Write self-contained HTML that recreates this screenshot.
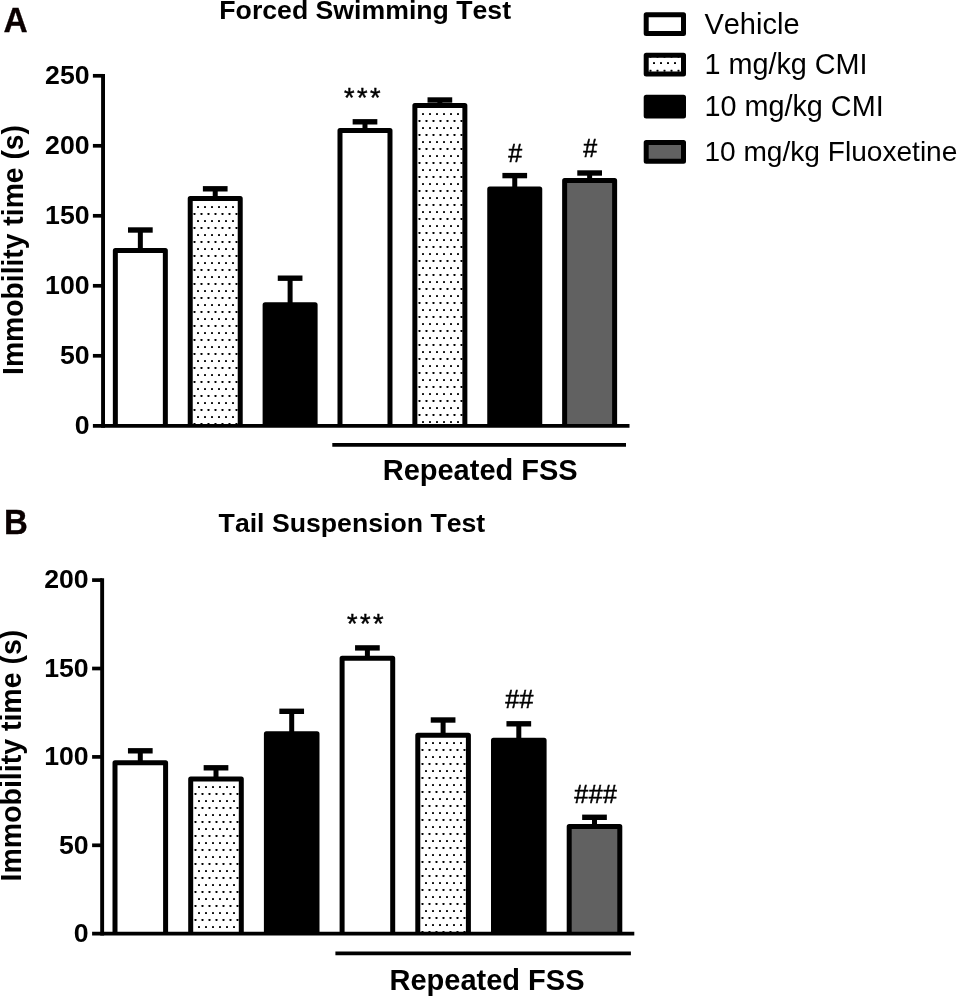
<!DOCTYPE html>
<html lang="en"><head><meta charset="utf-8"><title>Forced Swimming Test / Tail Suspension Test</title>
<style>html,body{margin:0;padding:0;background:#fff}body{width:957px;height:996px;overflow:hidden}svg{display:block}text{font-family:"Liberation Sans", Arial, Helvetica, sans-serif;fill:#000;font-kerning:none}.b{font-weight:bold}</style></head><body>
<svg width="957" height="996" viewBox="0 0 957 996">
<rect width="957" height="996" fill="#fff"/>
<defs><pattern id="pa1" patternUnits="userSpaceOnUse" x="196" y="204" width="7" height="14"><rect width="7" height="14" fill="#fff"/><rect x="1" y="2" width="2" height="2" rx="0.4"/><rect x="4.5" y="9" width="2" height="2" rx="0.4"/></pattern><pattern id="pa4" patternUnits="userSpaceOnUse" x="421" y="111" width="7" height="14"><rect width="7" height="14" fill="#fff"/><rect x="1" y="2" width="2" height="2" rx="0.4"/><rect x="4.5" y="9" width="2" height="2" rx="0.4"/></pattern><pattern id="pb1" patternUnits="userSpaceOnUse" x="197" y="784" width="7" height="14"><rect width="7" height="14" fill="#fff"/><rect x="1" y="2" width="2" height="2" rx="0.4"/><rect x="4.5" y="9" width="2" height="2" rx="0.4"/></pattern><pattern id="pb4" patternUnits="userSpaceOnUse" x="424" y="740" width="7" height="14"><rect width="7" height="14" fill="#fff"/><rect x="1" y="2" width="2" height="2" rx="0.4"/><rect x="4.5" y="9" width="2" height="2" rx="0.4"/></pattern><pattern id="pl" patternUnits="userSpaceOnUse" x="652" y="60" width="7" height="14"><rect width="7" height="14" fill="#fff"/><rect x="1" y="2.1" width="2" height="2" rx="0.4"/><rect x="4.5" y="9.7" width="2" height="2" rx="0.4"/></pattern></defs>
<path d="M140.35 250.6V230.2" stroke="#000" stroke-width="5" fill="none"/><path d="M128 230H152.7" stroke="#000" stroke-width="5.4" fill="none"/>
<path d="M115.35 425.8V250.6H165.35V425.8" fill="#fff" stroke="#000" stroke-width="5" stroke-linejoin="round"/>
<path d="M215.23 198.4V189" stroke="#000" stroke-width="5" fill="none"/><path d="M202.88 188.8H227.58" stroke="#000" stroke-width="5.4" fill="none"/>
<path d="M190.23 425.8V198.4H240.23V425.8" fill="url(#pa1)" stroke="#000" stroke-width="5" stroke-linejoin="round"/>
<path d="M290.11 304.7V278.4" stroke="#000" stroke-width="5" fill="none"/><path d="M277.76 278.2H302.46" stroke="#000" stroke-width="5.4" fill="none"/>
<path d="M265.11 425.8V304.7H315.11V425.8" fill="#000" stroke="#000" stroke-width="5" stroke-linejoin="round"/>
<path d="M364.99 130.6V122" stroke="#000" stroke-width="5" fill="none"/><path d="M352.64 121.8H377.34" stroke="#000" stroke-width="5.4" fill="none"/>
<path d="M339.99 425.8V130.6H389.99V425.8" fill="#fff" stroke="#000" stroke-width="5" stroke-linejoin="round"/>
<path d="M439.87 105.6V100.2" stroke="#000" stroke-width="5" fill="none"/><path d="M427.52 100H452.22" stroke="#000" stroke-width="5.4" fill="none"/>
<path d="M414.87 425.8V105.6H464.87V425.8" fill="url(#pa4)" stroke="#000" stroke-width="5" stroke-linejoin="round"/>
<path d="M514.75 189.1V175.8" stroke="#000" stroke-width="5" fill="none"/><path d="M502.4 175.6H527.1" stroke="#000" stroke-width="5.4" fill="none"/>
<path d="M489.75 425.8V189.1H539.75V425.8" fill="#000" stroke="#000" stroke-width="5" stroke-linejoin="round"/>
<path d="M589.63 180.4V173.2" stroke="#000" stroke-width="5" fill="none"/><path d="M577.28 173H601.98" stroke="#000" stroke-width="5.4" fill="none"/>
<path d="M564.63 425.8V180.4H614.63V425.8" fill="#616161" stroke="#000" stroke-width="5" stroke-linejoin="round"/>
<path d="M92.9 425.8H629.5" stroke="#000" stroke-width="3.8" fill="none"/>
<path d="M103.05 74.05V427.7" stroke="#000" stroke-width="3.9" fill="none"/>
<path d="M92.9 75.8H103.1" stroke="#000" stroke-width="3.7" fill="none"/>
<path d="M92.9 145.8H103.1" stroke="#000" stroke-width="3.7" fill="none"/>
<path d="M92.9 215.8H103.1" stroke="#000" stroke-width="3.7" fill="none"/>
<path d="M92.9 285.8H103.1" stroke="#000" stroke-width="3.7" fill="none"/>
<path d="M92.9 355.8H103.1" stroke="#000" stroke-width="3.7" fill="none"/>
<text class="b" x="89.6" y="84" font-size="26.67" text-anchor="end">250</text>
<text class="b" x="89.6" y="154" font-size="26.67" text-anchor="end">200</text>
<text class="b" x="89.6" y="224" font-size="26.67" text-anchor="end">150</text>
<text class="b" x="89.6" y="294" font-size="26.67" text-anchor="end">100</text>
<text class="b" x="89.6" y="364" font-size="26.67" text-anchor="end">50</text>
<text class="b" x="89.6" y="434" font-size="26.67" text-anchor="end">0</text>
<path d="M332.3 444.9H626" stroke="#000" stroke-width="3.8" fill="none"/>
<text class="b" x="480.2" y="479.7" font-size="29" text-anchor="middle">Repeated FSS</text>
<text class="b" transform="translate(365.2 19.2) scale(1 0.965)" font-size="26.67" text-anchor="middle">Forced Swimming Test</text>
<text class="b" transform="translate(3.5 32.1) scale(1 1.045)" font-size="33.5" style="fill:#0a0000" stroke="#0a0000" stroke-width="0.3">A</text>
<text class="b" transform="translate(22.6 250) rotate(-90) scale(1 1.055)" font-size="28.3" text-anchor="middle">Immobility time (s)</text>
<text x="363.4" y="107" font-size="27.2" letter-spacing="2.4" stroke="#000" stroke-width="0.4" text-anchor="middle">***</text>
<text x="515.2" y="162" font-size="25" stroke="#000" stroke-width="0.5" text-anchor="middle">#</text>
<text x="590.3" y="157" font-size="25" stroke="#000" stroke-width="0.5" text-anchor="middle">#</text>
<path d="M140.3 762.8V751" stroke="#000" stroke-width="5" fill="none"/><path d="M127.95 750.8H152.65" stroke="#000" stroke-width="5.4" fill="none"/>
<path d="M115 933.7V762.8H165.6V933.7" fill="#fff" stroke="#000" stroke-width="5" stroke-linejoin="round"/>
<path d="M216 779V768" stroke="#000" stroke-width="5" fill="none"/><path d="M203.65 767.8H228.35" stroke="#000" stroke-width="5.4" fill="none"/>
<path d="M190.7 933.7V779H241.3V933.7" fill="url(#pb1)" stroke="#000" stroke-width="5" stroke-linejoin="round"/>
<path d="M291.7 733.8V711.5" stroke="#000" stroke-width="5" fill="none"/><path d="M279.35 711.3H304.05" stroke="#000" stroke-width="5.4" fill="none"/>
<path d="M266.4 933.7V733.8H317V933.7" fill="#000" stroke="#000" stroke-width="5" stroke-linejoin="round"/>
<path d="M367.4 658.2V648.1" stroke="#000" stroke-width="5" fill="none"/><path d="M355.05 647.9H379.75" stroke="#000" stroke-width="5.4" fill="none"/>
<path d="M342.1 933.7V658.2H392.7V933.7" fill="#fff" stroke="#000" stroke-width="5" stroke-linejoin="round"/>
<path d="M443.1 735.2V720.2" stroke="#000" stroke-width="5" fill="none"/><path d="M430.75 720H455.45" stroke="#000" stroke-width="5.4" fill="none"/>
<path d="M417.8 933.7V735.2H468.4V933.7" fill="url(#pb4)" stroke="#000" stroke-width="5" stroke-linejoin="round"/>
<path d="M518.8 740.3V724" stroke="#000" stroke-width="5" fill="none"/><path d="M506.45 723.8H531.15" stroke="#000" stroke-width="5.4" fill="none"/>
<path d="M493.5 933.7V740.3H544.1V933.7" fill="#000" stroke="#000" stroke-width="5" stroke-linejoin="round"/>
<path d="M594.5 826.6V817.5" stroke="#000" stroke-width="5" fill="none"/><path d="M582.15 817.3H606.85" stroke="#000" stroke-width="5.4" fill="none"/>
<path d="M569.2 933.7V826.6H619.8V933.7" fill="#616161" stroke="#000" stroke-width="5" stroke-linejoin="round"/>
<path d="M92.1 933.7H634.3" stroke="#000" stroke-width="3.8" fill="none"/>
<path d="M102.15 578.25V935.6" stroke="#000" stroke-width="3.9" fill="none"/>
<path d="M92.1 580.1H102.2" stroke="#000" stroke-width="3.7" fill="none"/>
<path d="M92.1 668.5H102.2" stroke="#000" stroke-width="3.7" fill="none"/>
<path d="M92.1 756.9H102.2" stroke="#000" stroke-width="3.7" fill="none"/>
<path d="M92.1 845.3H102.2" stroke="#000" stroke-width="3.7" fill="none"/>
<text class="b" x="88.7" y="588.4" font-size="26.67" text-anchor="end">200</text>
<text class="b" x="88.7" y="676.92" font-size="26.67" text-anchor="end">150</text>
<text class="b" x="88.7" y="765.44" font-size="26.67" text-anchor="end">100</text>
<text class="b" x="88.7" y="853.96" font-size="26.67" text-anchor="end">50</text>
<text class="b" x="88.7" y="942.48" font-size="26.67" text-anchor="end">0</text>
<path d="M335.4 953.4H630.9" stroke="#000" stroke-width="3.8" fill="none"/>
<text class="b" x="487" y="990" font-size="29" text-anchor="middle">Repeated FSS</text>
<text class="b" x="218.6" y="531.5" font-size="26.67">Tail Suspension Test</text>
<text class="b" transform="translate(3.9 533.95) scale(1 1.04)" font-size="33" style="fill:#0a0000" stroke="#0a0000" stroke-width="0.3">B</text>
<text class="b" transform="translate(21.3 755.6) rotate(-90) scale(1 1.055)" font-size="28.5" text-anchor="middle">Immobility time (s)</text>
<text x="366.5" y="632.9" font-size="27.2" letter-spacing="2.4" stroke="#000" stroke-width="0.4" text-anchor="middle">***</text>
<text x="519.6" y="707.5" font-size="25" letter-spacing="0.4" stroke="#000" stroke-width="0.5" text-anchor="middle">##</text>
<text x="595.8" y="802.6" font-size="25" letter-spacing="0.4" stroke="#000" stroke-width="0.5" text-anchor="middle">###</text>
<rect x="646.2" y="14.7" width="37.3" height="18.8" fill="#fff" stroke="#000" stroke-width="5" stroke-linejoin="round"/>
<text x="704.4" y="34" font-size="29">Vehicle</text>
<rect x="646.2" y="55.2" width="37.3" height="18.8" fill="url(#pl)" stroke="#000" stroke-width="5" stroke-linejoin="round"/>
<text x="704.4" y="73.8" font-size="28.8">1 mg/kg CMI</text>
<rect x="646.2" y="97.2" width="37.3" height="18.8" fill="#000" stroke="#000" stroke-width="5" stroke-linejoin="round"/>
<text x="704.4" y="115.7" font-size="28.8">10 mg/kg CMI</text>
<rect x="646.2" y="142.4" width="37.3" height="18.8" fill="#616161" stroke="#000" stroke-width="5" stroke-linejoin="round"/>
<text x="704.4" y="161.1" font-size="28.1">10 mg/kg Fluoxetine</text>
</svg></body></html>
